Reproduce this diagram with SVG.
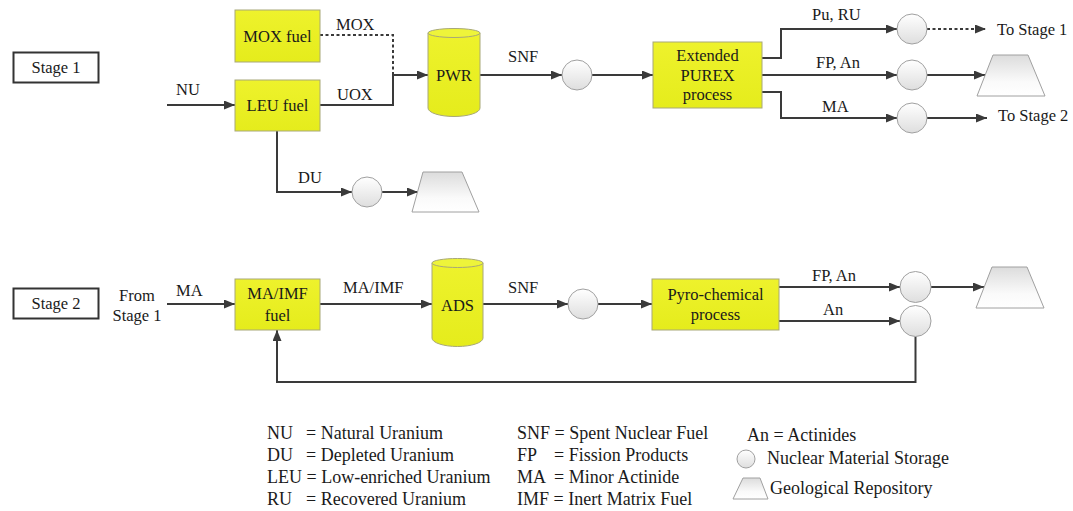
<svg xmlns="http://www.w3.org/2000/svg" width="1073" height="511" viewBox="0 0 1073 511" font-family="'Liberation Serif', 'DejaVu Serif', serif">
  <style>
    text { font-family: "Liberation Serif", "DejaVu Serif", serif; fill: #1a1a1a; }
    .lbl { font-size: 16.5px; }
    .mid { text-anchor: middle; }
    .leg { font-size: 18px; }
    .stage { fill: #ffffff; stroke: #333333; stroke-width: 2; }
    .proc { fill: url(#yellowFill); stroke: #a8a878; stroke-width: 1; }
    .cyl { fill: url(#yellowFill); stroke: #a8a878; stroke-width: 1; }
    .cyltop { fill: #eef43a; stroke: #a8a878; stroke-width: 1; }
    .store { fill: url(#storeFill); stroke: #a0a0a0; stroke-width: 1; }
    .repo { fill: url(#repoFill); stroke: #a0a0a0; stroke-width: 1; }
    .flow { fill: none; stroke: #3a3a3a; stroke-width: 2; }
    .dot { stroke-dasharray: 3 2.5; }
    .arr { marker-end: url(#arrow); }
  </style>
  <defs>
    <linearGradient id="yellowFill" x1="0" y1="0" x2="0" y2="1">
      <stop offset="0" stop-color="#eef22c"/>
      <stop offset="1" stop-color="#e5ec1c"/>
    </linearGradient>
    <linearGradient id="storeFill" x1="0" y1="0" x2="0" y2="1">
      <stop offset="0" stop-color="#ffffff"/>
      <stop offset="1" stop-color="#dedede"/>
    </linearGradient>
    <linearGradient id="repoFill" x1="0" y1="0" x2="0" y2="1">
      <stop offset="0" stop-color="#dcdcdc"/>
      <stop offset="0.65" stop-color="#fafafa"/>
      <stop offset="1" stop-color="#ffffff"/>
    </linearGradient>
    <marker id="arrow" markerUnits="userSpaceOnUse" markerWidth="11" markerHeight="9" refX="11" refY="4.5" orient="auto">
      <path d="M0,0 L11,4.5 L0,9 Z" fill="#3a3a3a"/>
    </marker>
  </defs>

  <!-- Stage labels -->
  <g id="stage1">
    <rect class="stage" x="13.5" y="52.5" width="85" height="30"/>
    <text class="lbl mid" x="56" y="73">Stage 1</text>
  </g>
  <g id="stage2">
    <rect class="stage" x="13.5" y="288.5" width="85" height="30"/>
    <text class="lbl mid" x="56" y="309">Stage 2</text>
  </g>

  <!-- Connectors -->
  <g id="connectors">
    <!-- stage 1 -->
    <path class="flow arr" d="M167,105 L235,105"/>
    <path class="flow dot" d="M320,35 L393,35 L393,75"/>
    <path class="flow" d="M320,105 L393,105 L393,75"/>
    <path class="flow arr" d="M393,75 L428,75"/>
    <path class="flow arr" d="M277,131 L277,192 L352,192"/>
    <path class="flow arr" d="M382,192 L418,192"/>
    <path class="flow arr" d="M480,75 L562,75"/>
    <path class="flow arr" d="M592,75 L653,75"/>
    <path class="flow arr" d="M762,58 L781,58 L781,29 L897,29"/>
    <path class="flow dot arr" d="M927,29 L986,29"/>
    <path class="flow arr" d="M762,75 L897,75"/>
    <path class="flow arr" d="M927,75 L985,75"/>
    <path class="flow arr" d="M762,92 L781,92 L781,118 L897,118"/>
    <path class="flow arr" d="M927,118 L987,118"/>
    <!-- stage 2 -->
    <path class="flow arr" d="M167,304 L235,304"/>
    <path class="flow arr" d="M320,304 L432,304"/>
    <path class="flow arr" d="M483,304 L568,304"/>
    <path class="flow arr" d="M598,304 L652,304"/>
    <path class="flow arr" d="M779,287 L900,287"/>
    <path class="flow arr" d="M931,287 L984,287"/>
    <path class="flow arr" d="M779,321 L900,321"/>
    <path class="flow arr" d="M915.5,336.5 L915.5,382 L277,382 L277,330"/>
  </g>

  <!-- Connector labels -->
  <g id="flow-labels" class="lbl">
    <text x="176" y="95">NU</text>
    <text x="336" y="30">MOX</text>
    <text x="337" y="100">UOX</text>
    <text x="298" y="183">DU</text>
    <text x="508" y="62">SNF</text>
    <text x="812" y="20">Pu, RU</text>
    <text x="816" y="68">FP, An</text>
    <text x="822" y="112">MA</text>
    <text x="997" y="35">To Stage 1</text>
    <text x="998" y="121">To Stage 2</text>
    <text class="mid" x="137" y="301">From</text>
    <text class="mid" x="137" y="321">Stage 1</text>
    <text x="176" y="296">MA</text>
    <text x="343" y="293">MA/IMF</text>
    <text x="508" y="293">SNF</text>
    <text x="812" y="281">FP, An</text>
    <text x="823" y="315">An</text>
  </g>

  <!-- Stage 1 nodes -->
  <g id="mox-fuel">
    <rect class="proc" x="235" y="10" width="85" height="52"/>
    <text class="lbl mid" x="277.5" y="41.5">MOX fuel</text>
  </g>
  <g id="leu-fuel">
    <rect class="proc" x="235" y="80" width="85" height="51"/>
    <text class="lbl mid" x="277.5" y="111">LEU fuel</text>
  </g>
  <g id="pwr">
    <path class="cyl" d="M428,33 L428,108 A26,8.5 0 0 0 480,108 L480,33 Z"/>
    <ellipse class="cyltop" cx="454" cy="33" rx="26" ry="4.5"/>
    <text class="lbl mid" x="454" y="81">PWR</text>
  </g>
  <g id="purex">
    <rect class="proc" x="653" y="42" width="109" height="66"/>
    <text class="lbl mid" x="707.5" y="61">Extended</text>
    <text class="lbl mid" x="707.5" y="80.5">PUREX</text>
    <text class="lbl mid" x="707.5" y="99.5">process</text>
  </g>
  <g id="store-du"><circle class="store" cx="367" cy="192" r="15"/></g>
  <g id="repo-du"><path class="repo" d="M423,172 L462,172 L479,212 L412,212 Z"/></g>
  <g id="store-snf1"><circle class="store" cx="577" cy="75" r="15"/></g>
  <g id="store-pu"><circle class="store" cx="912" cy="29" r="15"/></g>
  <g id="store-fp1"><circle class="store" cx="912" cy="75" r="15"/></g>
  <g id="store-ma"><circle class="store" cx="912" cy="118" r="15"/></g>
  <g id="repo-fp1"><path class="repo" d="M993,55 L1028,55 L1045,96 L977,96 Z"/></g>

  <!-- Stage 2 nodes -->
  <g id="ma-imf-fuel">
    <rect class="proc" x="235" y="279" width="85" height="51"/>
    <text class="lbl mid" x="277.5" y="299">MA/IMF</text>
    <text class="lbl mid" x="277.5" y="321">fuel</text>
  </g>
  <g id="ads">
    <path class="cyl" d="M432,263 L432,338 A25.5,8.5 0 0 0 483,338 L483,263 Z"/>
    <ellipse class="cyltop" cx="457.5" cy="263" rx="25.5" ry="4.5"/>
    <text class="lbl mid" x="457.5" y="311">ADS</text>
  </g>
  <g id="pyro">
    <rect class="proc" x="652" y="279" width="127" height="51"/>
    <text class="lbl mid" x="715.5" y="300">Pyro-chemical</text>
    <text class="lbl mid" x="715.5" y="320">process</text>
  </g>
  <g id="store-snf2"><circle class="store" cx="583" cy="304" r="15"/></g>
  <g id="store-fp2"><circle class="store" cx="915.5" cy="287" r="15.5"/></g>
  <g id="store-an"><circle class="store" cx="915.5" cy="321" r="15.5"/></g>
  <g id="repo-fp2"><path class="repo" d="M992,267 L1027,267 L1044,308 L976,308 Z"/></g>

  <!-- Legend -->
  <g id="legend" class="leg">
    <text x="267" y="439">NU</text><text x="306" y="439">= Natural Uranium</text>
    <text x="267" y="461">DU</text><text x="306" y="461">= Depleted Uranium</text>
    <text x="267" y="483">LEU = Low-enriched Uranium</text>
    <text x="267" y="505">RU</text><text x="306" y="505">= Recovered Uranium</text>

    <text x="517" y="439">SNF = Spent Nuclear Fuel</text>
    <text x="517" y="461">FP</text><text x="554" y="461">= Fission Products</text>
    <text x="517" y="483">MA</text><text x="554" y="483">= Minor Actinide</text>
    <text x="517" y="505">IMF = Inert Matrix Fuel</text>

    <text x="747" y="441">An = Actinides</text>
    <circle class="store" cx="746" cy="459" r="9"/>
    <text x="767" y="464">Nuclear Material Storage</text>
    <path class="repo" d="M743,478 L760,478 L768,499 L733,499 Z"/>
    <text x="770" y="494">Geological Repository</text>
  </g>
</svg>
